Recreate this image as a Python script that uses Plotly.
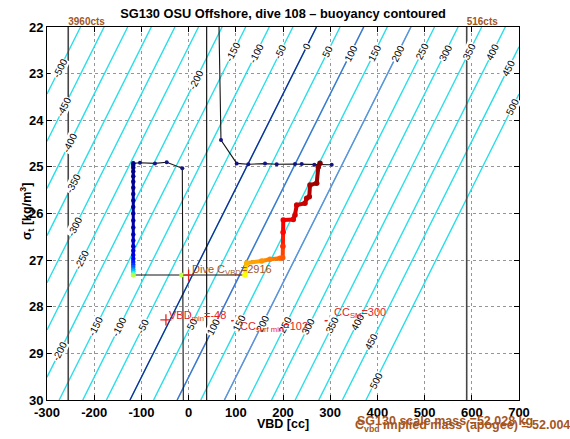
import plotly.graph_objects as go
from plotly.colors import sample_colorscale

# ---------------- data ----------------
x_ticks = [-300, -200, -100, 0, 100, 200, 300, 400, 500, 600, 700]
y_ticks = [22, 23, 24, 25, 26, 27, 28, 29, 30]

# buoyancy field [g] at the corners of the VBD / sigma_t domain
field_vbd = [-300, 700]
field_sigma = [22, 30]
field_buoy = [[-571.0, 429.0],
              [-175.8, 824.2]]
contour_start, contour_end, contour_step = -500, 500, 50
highlight_levels = [0, 100, 200]
highlight_colors = ['rgb(25,40,150)', 'rgb(85,105,205)', 'rgb(115,135,215)']

# contour label values and the sigma_t where they sit
label_values = [-500, -450, -400, -350, -300, -250, -200, -150, -100, -50, 0, 50, 100, 150, 200, 250, 300, 350, 400, 450, 500,
                -200, -150, -100, -50, 50, 100, 150, 200, 250, 300, 350, 400, 450, 500]
label_sigma = [22.886, 23.709, 24.494, 25.352, 26.283, 26.997, 23.137, 22.53, 22.56, 22.53, 22.42, 22.53, 22.56, 22.56, 22.56, 22.53, 22.56, 22.53, 22.53, 22.886, 23.709,
               28.964, 28.428, 28.428, 28.428, 28.37, 28.428, 28.36, 28.355, 28.39, 28.428, 28.39, 28.32, 28.75, 29.571]

# thin black traces with navy dots
traceA_vbd = [64.4, 68.6, 101.9, 126.5, 161.9, 186.6, 225.4, 239.6, 266.3, 303.2]
traceA_sig = [22.0, 24.424, 24.925, 24.945, 24.93, 24.945, 24.94, 24.94, 24.953, 24.953]
traceB_vbd = [-117.2, -103.0, -71.2, -46.4, -13.3, -11.2]
traceB_sig = [24.925, 24.91, 24.925, 24.90, 25.03, 30.0]
traceC_vbd = [-117.2, -14.6, 119.5]
traceC_sig = [27.32, 27.32, 27.32]
traceC_t = [0.55, 0.56, 0.62]

# dive (jet coloured)
dive_vbd = -117.2
dive_sig = [24.92, 24.96, 25.02, 25.10, 25.20, 25.32, 25.45, 25.58, 25.72, 25.86, 26.00, 26.15, 26.30,
            26.45, 26.58, 26.70, 26.80, 26.89, 26.97, 27.04, 27.10, 27.15, 27.20, 27.24, 27.28, 27.32]
dive_t = [0.0, 0.003, 0.006, 0.009, 0.012, 0.015, 0.018, 0.021, 0.024, 0.027, 0.03, 0.035, 0.04,
          0.05, 0.06, 0.07, 0.08, 0.10, 0.12, 0.15, 0.18, 0.22, 0.27, 0.32, 0.40, 0.55]

# climb (jet coloured)
climb_vbd = [119.5, 123.1, 154.9, 172.5, 193.6, 199.4, 199.8, 200.2, 200.6, 221.8, 225.4, 229.0, 246.6,
             250.2, 255.7, 257.2, 271.4, 274.8, 278.4]
climb_sig = [27.32, 27.06, 27.02, 26.98, 26.96, 26.95, 26.70, 26.40, 26.14, 26.13, 26.03, 25.82, 25.78,
             25.675, 25.64, 25.39, 25.35, 25.0, 24.92]
climb_t = [0.62, 0.70, 0.73, 0.75, 0.77, 0.79, 0.83, 0.87, 0.89, 0.90, 0.91, 0.92, 0.93,
           0.94, 0.95, 0.96, 0.97, 0.98, 1.0]

# reference VBD lines
vbd_min_cts, vbd_max_cts, vbd_neutral = -255.0, 589.2, 38.3
cts_labels = ["3960cts", "516cts"]
# red markers
mark_vbd = [-48, 102, 300]
mark_sig = [28.28, 28.30, 28.30]
dive_cvbd = (0.0, 27.32)

# ---------------- style ----------------
FONT = "Liberation Sans, Arial, sans-serif"
CYAN = "rgb(40,222,232)"
BROWN = "#a5561e"
RED = "#e8231c"
JET = [[0, 'rgb(0,0,128)'], [0.125, 'rgb(0,0,255)'], [0.375, 'rgb(0,255,255)'],
       [0.625, 'rgb(255,255,0)'], [0.875, 'rgb(255,0,0)'], [1, 'rgb(128,0,0)']]

fig = go.Figure()

fig.add_trace(go.Contour(
    x=field_vbd, y=field_sigma, z=field_buoy,
    autocontour=False,
    contours=dict(start=contour_start, end=contour_end, size=contour_step, coloring='lines', showlabels=False),
    colorscale=[[0, CYAN], [1, CYAN]], showscale=False, line=dict(width=1.4), hoverinfo='skip'))
for lev, col in zip(highlight_levels, highlight_colors):
    fig.add_trace(go.Contour(
        x=field_vbd, y=field_sigma, z=field_buoy,
        autocontour=False,
        contours=dict(start=lev, end=lev + 1, size=1000, coloring='lines', showlabels=False),
        colorscale=[[0, col], [1, col]], showscale=False, line=dict(width=1.3), hoverinfo='skip'))

# reference vertical lines
for v, col, w in [(vbd_min_cts, 'rgb(70,70,70)', 1.6), (vbd_max_cts, 'rgb(70,70,70)', 1.6), (vbd_neutral, 'black', 1.1)]:
    fig.add_trace(go.Scatter(x=[v, v], y=[field_sigma[0], field_sigma[1]], mode='lines',
                             line=dict(color=col, width=w), hoverinfo='skip'))
# counts labels above the reference lines
fig.add_trace(go.Scatter(x=[vbd_min_cts, vbd_max_cts], y=[field_sigma[0], field_sigma[0]], mode='text',
                         text=[f"<b>{t}</b>" for t in cts_labels], textposition='top right', cliponaxis=False,
                         textfont=dict(family=FONT, size=10, color=BROWN), hoverinfo='skip'))

# thin black traces
for xs, ys in [(traceA_vbd, traceA_sig), (traceB_vbd, traceB_sig), (traceC_vbd, traceC_sig)]:
    fig.add_trace(go.Scatter(x=xs, y=ys, mode='lines', line=dict(color='rgb(20,20,20)', width=1.1), hoverinfo='skip'))
fig.add_trace(go.Scatter(x=traceA_vbd[1:], y=traceA_sig[1:], mode='markers',
                         marker=dict(color='rgb(20,20,130)', size=4), hoverinfo='skip'))
fig.add_trace(go.Scatter(x=traceB_vbd[:-1], y=traceB_sig[:-1], mode='markers',
                         marker=dict(color='rgb(20,20,130)', size=4), hoverinfo='skip'))

# jet-coloured dive and climb
def jet_segments(xs, ys, ts, width):
    for i in range(len(xs) - 1):
        c = sample_colorscale(JET, [(ts[i] + ts[i + 1]) / 2])[0]
        fig.add_trace(go.Scatter(x=[xs[i], xs[i + 1]], y=[ys[i], ys[i + 1]], mode='lines',
                                 line=dict(color=c, width=width), hoverinfo='skip'))
    fig.add_trace(go.Scatter(x=xs, y=ys, mode='markers',
                             marker=dict(color=ts, colorscale=JET, cmin=0, cmax=1, size=width + 1.5),
                             hoverinfo='skip'))

jet_segments([dive_vbd] * len(dive_sig), dive_sig, dive_t, 3)
jet_segments(climb_vbd, climb_sig, climb_t, 4)
fig.add_trace(go.Scatter(x=traceC_vbd, y=traceC_sig, mode='markers',
                         marker=dict(color=traceC_t, colorscale=JET, cmin=0, cmax=1, size=5), hoverinfo='skip'))

# red plus markers
fig.add_trace(go.Scatter(x=mark_vbd + [dive_cvbd[0]], y=mark_sig + [dive_cvbd[1]], mode='markers',
                         marker=dict(symbol='cross-thin', size=8, line=dict(color=RED, width=1.3)),
                         hoverinfo='skip'))

ann = []
# contour labels
B00 = field_buoy[0][0]
dBdv = (field_buoy[0][1] - field_buoy[0][0]) / (field_vbd[1] - field_vbd[0])
dBds = (field_buoy[1][0] - field_buoy[0][0]) / (field_sigma[1] - field_sigma[0])
for val, s in zip(label_values, label_sigma):
    v = (val - B00 - (s - field_sigma[0]) * dBds) / dBdv + field_vbd[0]
    ann.append(dict(x=v, y=s, xref='x', yref='y', text=str(val), showarrow=False, textangle=-63,
                    font=dict(family=FONT, size=10, color='black'), bgcolor='white', borderpad=0))

# marker labels
ann.append(dict(x=-45, y=28.2, xref='x', yref='y', xanchor='left', text="VBD<sub>min</sub>=-48", showarrow=False,
                font=dict(family=FONT, size=11, color=RED)))
ann.append(dict(x=104, y=28.43, xref='x', yref='y', xanchor='left', text="CC<sub>surf min</sub>=102", showarrow=False,
                font=dict(family=FONT, size=11, color=RED)))
ann.append(dict(x=303, y=28.13, xref='x', yref='y', xanchor='left', text="CC<sub>SM</sub>=300", showarrow=False,
                font=dict(family=FONT, size=11, color=RED)))
ann.append(dict(x=2, y=27.21, xref='x', yref='y', xanchor='left', text="Dive C<sub>VBD</sub>=2916", showarrow=False,
                font=dict(family=FONT, size=11, color=BROWN)))

# bottom mass texts
ann.append(dict(x=(355 - 47) / 472, y=(400 - 421) / 373, xref='paper', yref='paper', xanchor='left', yanchor='middle',
                text="<b>SG130 scale mass =52.028 kg</b>", showarrow=False, font=dict(family=FONT, size=12.5, color=BROWN)))
ann.append(dict(x=(353 - 47) / 472, y=(400 - 416) / 373, xref='paper', yref='paper', xanchor='left', yanchor='top',
                text="<b>C<sub>vbd</sub> implied mass (apogee) = 52.004 kg</b>", showarrow=False,
                font=dict(family=FONT, size=12.5, color=BROWN)))

# axis titles
ann.append(dict(x=0.5, y=(400 - 424) / 373, xref='paper', yref='paper', yanchor='middle',
                text="<b>VBD [cc]</b>", showarrow=False, font=dict(family=FONT, size=12.5, color='black')))
ann.append(dict(x=(16 - 47) / 472, y=(400 - 212) / 373, xref='paper', yref='paper', textangle=-90,
                text="<b>σ<sub>t</sub> [kg/m<sup>3</sup>]</b>", showarrow=False, font=dict(family=FONT, size=12.5, color='black')))

x0, x1 = x_ticks[0], x_ticks[-1]
fig.update_layout(
    width=570, height=439, margin=dict(l=47, r=51, t=27, b=39, autoexpand=False),
    paper_bgcolor='white', plot_bgcolor='white', showlegend=False,
    title=dict(text="<b>SG130 OSU Offshore, dive 108 – buoyancy contoured</b>", x=0.5, xref='paper',
               y=1 - 14 / 439, yanchor='middle', font=dict(family=FONT, size=12.8, color='black')),
    annotations=ann,
)
axis_common = dict(showline=True, linecolor='black', linewidth=1, mirror='ticks', ticks='inside', ticklen=5,
                   tickcolor='black', showgrid=True, gridcolor='rgb(150,150,150)', griddash='dot', gridwidth=1,
                   zeroline=False, automargin=False, tickfont=dict(family=FONT, size=13, color='black'))
fig.update_xaxes(range=[x0, x1], tickvals=x_ticks, ticktext=[f"<b>{t}</b>" for t in x_ticks], **axis_common)
fig.update_yaxes(range=[30, 22], tickvals=y_ticks, ticktext=[f"<b>{t}</b>" for t in y_ticks], **axis_common)

fig.write_html("out.html", config={'displayModeBar': False},
               post_script="document.body.style.margin='0px';document.body.style.overflow='hidden';")
